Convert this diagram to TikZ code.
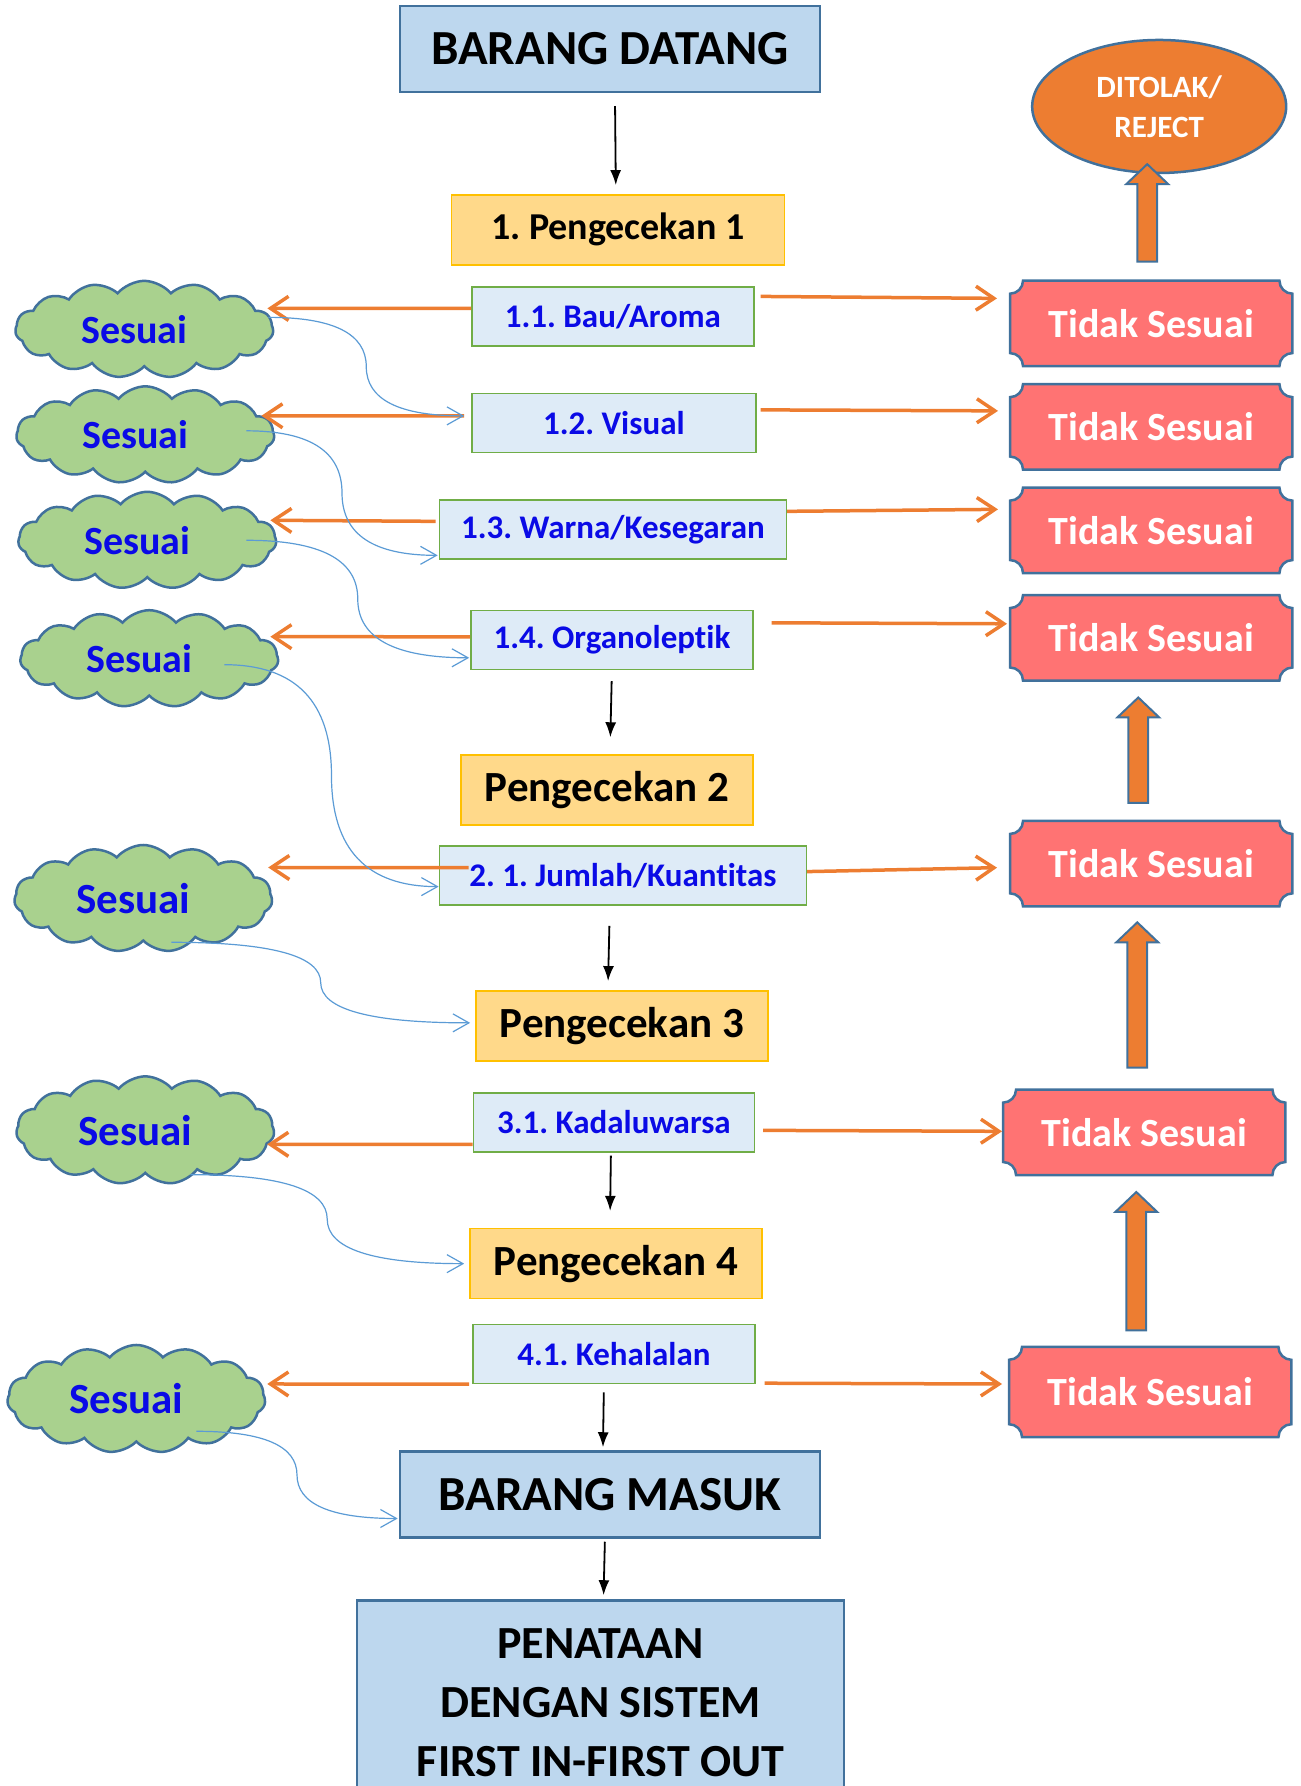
\documentclass[tikz,border=0pt]{standalone}
\usepackage{fontspec}
\setmainfont{Carlito}[Ligatures={NoCommon,NoContextual}]
\usepackage{xcolor}
\usetikzlibrary{shapes}
\usetikzlibrary{shapes.symbols}
\usetikzlibrary{arrows.meta}
\usetikzlibrary{backgrounds}
\usetikzlibrary{calc}
\frenchspacing

\definecolor{borderblue}{HTML}{41719C}
\definecolor{mainfill}{HTML}{BDD7EE}
\definecolor{itemfill}{HTML}{DEEBF7}
\definecolor{itemdraw}{HTML}{70AD47}
\definecolor{checkfill}{HTML}{FFD98A}
\definecolor{checkdraw}{HTML}{FFC000}
\definecolor{tsfill}{HTML}{FF7373}
\definecolor{cloudfill}{HTML}{A9D18E}
\definecolor{orangeC}{HTML}{ED7D31}
\definecolor{linkblue}{HTML}{5B9BD5}
\definecolor{textblue}{HTML}{0A0AE6}

\begin{document}
\begin{tikzpicture}[x=0.995pt, y=-0.995pt, >={Latex[length=15pt,width=11pt]},
  mainbox/.style={draw=borderblue, fill=mainfill, line width=2.5pt, font=\bfseries\fontsize{49}{58}\selectfont},
  checkbox/.style={draw=checkdraw, fill=checkfill, line width=1.5pt, minimum width=292pt, minimum height=70pt, font=\bfseries\fontsize{43}{50}\selectfont},
  itembox/.style={draw=itemdraw, fill=itemfill, line width=1.5pt, minimum height=59pt, text=textblue, font=\bfseries\fontsize{33}{38}\selectfont},
  tidak/.style={minimum width=282pt, minimum height=85pt, text=white, font=\bfseries\fontsize{40}{48}\selectfont},
  plaque/.style={draw=borderblue, fill=tsfill, line width=2.5pt},
  sesuai/.style={cloud, cloud puffs=15, cloud puff arc=100, cloud ignores aspect, draw=borderblue, fill=cloudfill, line width=2.5pt, inner sep=0pt, text=textblue, minimum width=258pt, minimum height=97pt, execute at begin node=\hspace*{-20pt}, font=\bfseries\fontsize{40}{48}\selectfont},
  reject/.style={ellipse, draw=borderblue, fill=orangeC, line width=2.5pt, minimum width=254pt, minimum height=133pt, text=white, align=center, font=\bfseries\fontsize{31}{40}\selectfont},
  flow/.style={->, line width=1.8pt},
  tolak/.style={draw=orangeC, line width=3.5pt, -{Straight Barb[length=18pt,width=24pt]}},
  link/.style={draw=linkblue, line width=1.2pt, -{Straight Barb[length=16pt,width=18pt]}},
  bigup/.style={draw=borderblue, fill=orangeC, line width=2pt, line join=miter}]
\useasboundingbox (0pt,0pt) rectangle (1301pt,-1786pt);

%main column
\node[mainbox, minimum width=420pt, minimum height=86pt] (datang) at (613,49) {BARANG DATANG};
\node[checkbox, minimum width=333pt, font=\bfseries\fontsize{38}{44}\selectfont] (cek1) at (621,231) {1. Pengecekan 1};
\node[itembox, minimum width=282pt] (bau) at (616,318) {1.1. Bau/Aroma};
\node[itembox, minimum width=284pt] (visual) at (617,425) {1.2. Visual};
\node[itembox, minimum width=347pt] (warna) at (616,532) {1.3. Warna/Kesegaran};
\node[itembox, minimum width=282pt] (organo) at (615,643) {1.4. Organoleptik};
\node[checkbox] (cek2) at (610,794) {Pengecekan 2};
\node[itembox, minimum width=367pt] (jumlah) at (626,880) {2. 1. Jumlah/Kuantitas};
\node[checkbox] (cek3) at (625,1031) {Pengecekan 3};
\node[itembox, minimum width=281pt] (kadaluwarsa) at (617,1128) {3.1. Kadaluwarsa};
\node[checkbox] (cek4) at (619,1270) {Pengecekan 4};
\node[itembox, minimum width=282pt] (halal) at (617,1361) {4.1. Kehalalan};
\node[mainbox, minimum width=420pt, minimum height=86pt] (masuk) at (613,1502) {BARANG MASUK};
\node[mainbox, minimum width=487pt, minimum height=204pt, align=center, font=\bfseries\fontsize{46}{59}\selectfont] (penataan) at (603.5,1711) {PENATAAN\\DENGAN SISTEM\\FIRST IN-FIRST OUT};

\draw[flow, shorten <=13pt, shorten >=9pt] ([xshift=5pt]datang.south) -- ([xshift=-2pt]cek1.north);
\draw[flow, shorten <=11pt, shorten >=17pt] (organo.south) -- ([xshift=3pt]cek2.north);
\draw[flow, shorten <=20pt, shorten >=9pt] ([xshift=-13pt]jumlah.south) -- ([xshift=-14pt]cek3.north);
\draw[flow, shorten <=3pt, shorten >=17pt] ([xshift=-3pt]kadaluwarsa.south) -- ([xshift=-6pt]cek4.north);
\draw[flow, shorten <=8pt, shorten >=3pt] ([xshift=-10pt]halal.south) -- ([xshift=-7pt]masuk.north);
\draw[flow, shorten <=3pt, shorten >=4pt] ([xshift=-5pt]masuk.south) -- ([xshift=3pt]penataan.north);

%sesuai clouds
\node[sesuai] (ok1) at (145,331) {Sesuai};
\node[sesuai] (ok2) at (146,437) {Sesuai};
\node[sesuai] (ok3) at (148,543) {Sesuai};
\node[sesuai] (ok4) at (150,662) {Sesuai};
\node[sesuai, minimum height=107pt, font=\bfseries\fontsize{43}{50}\selectfont] (ok5) at (144,903) {Sesuai};
\node[sesuai, minimum height=108pt, font=\bfseries\fontsize{43}{50}\selectfont] (ok6) at (146,1136) {Sesuai};
\node[sesuai, minimum height=108pt, font=\bfseries\fontsize{43}{50}\selectfont] (ok7) at (137,1406) {Sesuai};

%tidak sesuai
\node[reject] (ditolak) at (1165,107) {DITOLAK/\\REJECT};
\node[tidak] (ts1) at (1157,325) {Tidak Sesuai};
\node[tidak] (ts2) at (1157,429) {Tidak Sesuai};
\node[tidak] (ts3) at (1157,533) {Tidak Sesuai};
\node[tidak] (ts4) at (1157,641) {Tidak Sesuai};
\node[tidak] (ts5) at (1157,868) {Tidak Sesuai};
\node[tidak] (ts6) at (1150,1138) {Tidak Sesuai};
\node[tidak, minimum height=90pt] (ts7) at (1156,1399) {Tidak Sesuai};
\begin{scope}[on background layer]
  \foreach \n in {ts1,ts2,ts3,ts4,ts5,ts6,ts7} {
    \draw[plaque] ([xshift=13pt]\n.north west) -- ([xshift=-13pt]\n.north east)
      arc[start angle=180, end angle=270, radius=13pt] -- ([yshift=13pt]\n.south east)
      arc[start angle=90, end angle=180, radius=13pt] -- ([xshift=13pt]\n.south west)
      arc[start angle=0, end angle=90, radius=13pt] -- ([yshift=-13pt]\n.north west)
      arc[start angle=270, end angle=360, radius=13pt] -- cycle;
  }
\end{scope}

%block arrows up
\foreach \x/\b/\t in {1153/263/165, 1144/807/701, 1143/1073/927, 1142/1337/1198} {
  \draw[bigup] (\x-10,\b) -- (\x-10,\t+20) -- (\x-21,\t+20) -- (\x,\t)
    -- (\x+21,\t+20) -- (\x+10,\t+20) -- (\x+10,\b) -- cycle;
}

%orange arrows to the left
\draw[tolak] ([yshift=8pt]bau.west) -- ([xshift=-7pt,yshift=21pt]ok1.east);
\draw[tolak] ([xshift=-7pt,yshift=7pt]visual.west) -- ([xshift=-14pt,yshift=19pt]ok2.east);
\draw[tolak] ([xshift=-3pt,yshift=8pt]warna.west) -- ([xshift=-7pt,yshift=20pt]ok3.east);
\draw[tolak] ([yshift=3pt]organo.west) -- ([xshift=-9pt,yshift=22pt]ok4.east);
\draw[tolak] ([xshift=30pt,yshift=8pt]jumlah.west) -- ([xshift=-5pt,yshift=31pt]ok5.east);
\draw[tolak] ([yshift=-22pt]kadaluwarsa.west) -- ([xshift=-8pt,yshift=-14pt]ok6.east);
\draw[tolak] ([xshift=-3pt,yshift=-30pt]halal.west) -- ([xshift=1pt,yshift=15pt]ok7.east);

%orange arrows to the right
\draw[tolak] ([xshift=6pt,yshift=20pt]bau.east) -- ([xshift=-13pt,yshift=25pt]ts1.west);
\draw[tolak] ([xshift=4pt,yshift=13pt]visual.east) -- ([xshift=-12pt,yshift=16pt]ts2.west);
\draw[tolak] ([yshift=18pt]warna.east) -- ([xshift=-12pt,yshift=21pt]ts3.west);
\draw[tolak] ([xshift=18pt,yshift=17pt]organo.east) -- ([xshift=-3pt,yshift=14pt]ts4.west);
\draw[tolak] ([yshift=4pt]jumlah.east) -- ([xshift=-13pt,yshift=-4pt]ts5.west);
\draw[tolak] ([xshift=8pt,yshift=-8pt]kadaluwarsa.east) -- ([xshift=-1pt,yshift=1pt]ts6.west);
\draw[tolak] ([xshift=9pt,yshift=-29pt]halal.east) -- ([xshift=-7pt,yshift=8pt]ts7.west);

%blue links sesuai -> next step
\coordinate (s1) at ([xshift=-6pt,yshift=12pt]ok1.east);
\coordinate (e1) at ([xshift=-7pt,yshift=7pt]visual.west);
\coordinate (s2) at ([xshift=-29pt,yshift=4pt]ok2.east);
\coordinate (e2) at ([xshift=-1pt,yshift=-26pt]warna.west);
\coordinate (s3) at ([xshift=-31pt]ok3.east);
\coordinate (e3) at ([xshift=-1pt,yshift=-18pt]organo.west);
\coordinate (s4) at ([xshift=-55pt,yshift=-6pt]ok4.east);
\coordinate (e4) at ([yshift=-11pt]jumlah.west);
\coordinate (s5) at ([xshift=28pt]ok5.south);
\coordinate (e5) at ([xshift=-5pt,yshift=3pt]cek3.west);
\coordinate (s6) at ([xshift=45pt]ok6.south);
\coordinate (e6) at ([xshift=-5pt]cek4.west);
\coordinate (s7) at ([xshift=60pt,yshift=12pt]ok7.south);
\coordinate (e7) at ([xshift=-1pt,yshift=-24pt]masuk.west);
\foreach \i in {1,...,7} {
  \coordinate (m\i) at ($(s\i)!0.5!(e\i)$);
  \coordinate (p\i) at (m\i |- s\i);
  \coordinate (q\i) at (m\i |- e\i);
  \draw[link] (s\i) .. controls ($(s\i)!0.667!(p\i)$) and ($(m\i)!0.667!(p\i)$) .. (m\i)
    .. controls ($(m\i)!0.667!(q\i)$) and ($(e\i)!0.667!(q\i)$) .. (e\i);
}
\end{tikzpicture}
\end{document}
